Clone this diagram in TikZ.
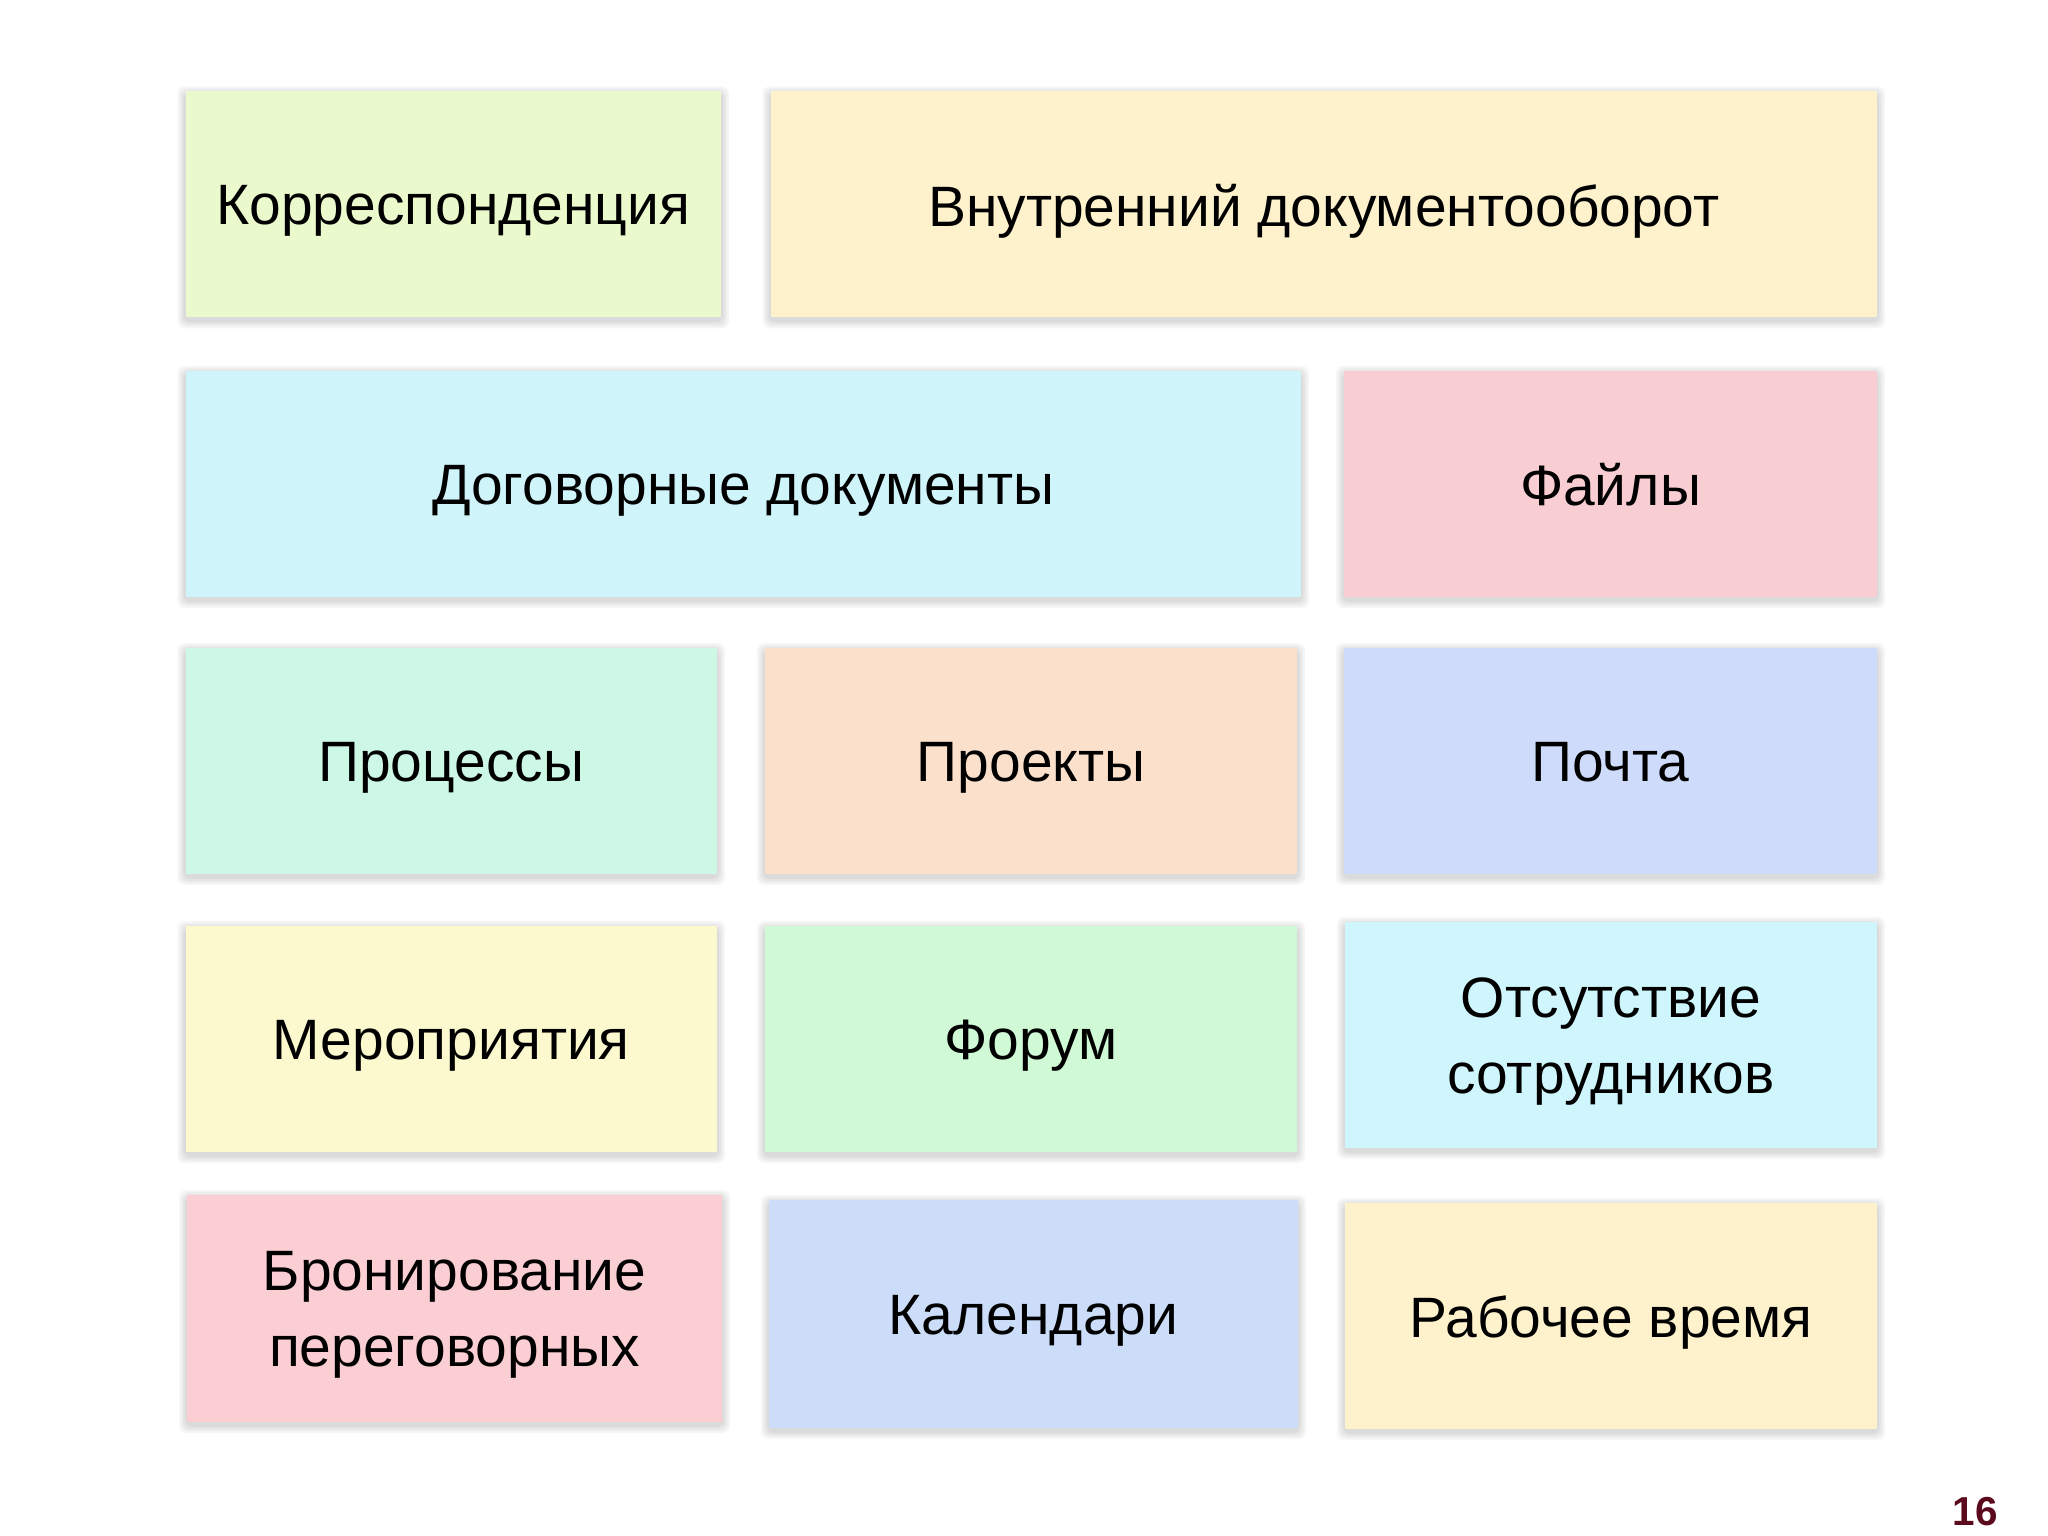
\documentclass[tikz,border=0pt]{standalone}
\usepackage{fontspec}
\setmainfont{Liberation Sans}
\usetikzlibrary{fit,calc}
\definecolor{cKorr}{RGB}{235,250,205}
\definecolor{cVnutr}{RGB}{253,242,204}
\definecolor{cDog}{RGB}{207,245,251}
\definecolor{cFail}{RGB}{249,206,211}
\definecolor{cProc}{RGB}{205,248,230}
\definecolor{cProj}{RGB}{251,225,204}
\definecolor{cPocht}{RGB}{207,219,250}
\definecolor{cMer}{RGB}{251,249,205}
\definecolor{cForum}{RGB}{207,250,213}
\definecolor{cOts}{RGB}{207,246,252}
\definecolor{cBron}{RGB}{250,206,210}
\definecolor{cKal}{RGB}{204,221,249}
\definecolor{cRab}{RGB}{253,242,204}
\definecolor{pagenum}{RGB}{92,10,30}
\tikzset{
  boxshape/.style={rectangle, inner sep=0pt, draw=none},
  boxtext/.style={align=center, inner sep=0pt, yshift=-0.065cm, font=\fontsize{16.2}{21.6}\selectfont},
  shadowlayer/.style={fill=black, opacity=0.035, rounded corners=2pt},
}
% \cell{name}{colour}{x1}{y1}{x2}{y2}{text}
\newcommand\cell[7]{%
  \foreach \s in {0.02,0.04,0.06,0.08}{%
    \fill[shadowlayer] ($(#3,#4)+(-\s,-\s+0.03)$) rectangle ($(#5,#6)+(\s,\s+0.03)$);}
  \node[boxshape, fill=#2, fit={(#3,#4)(#5,#6)}] (#1) {};
  \node[boxtext] (#1-t) at (#1.center) {#7\vphantom{Кр}};
}
\begin{document}
\begin{tikzpicture}[x=1cm,y=-1cm]
\useasboundingbox[fill=white] (0,0) rectangle (20.48,15.36);
% row 1
\cell{korr}{cKorr}{1.855}{0.914}{7.21}{3.174}{Корреспонденция}
\cell{vnutr}{cVnutr}{7.706}{0.914}{18.77}{3.174}{Внутренний документооборот}
% row 2
\cell{dog}{cDog}{1.855}{3.71}{13.01}{5.97}{Договорные документы}
\cell{fail}{cFail}{13.44}{3.71}{18.77}{5.97}{Файлы}
% row 3
\cell{proc}{cProc}{1.855}{6.48}{7.17}{8.74}{Процессы}
\cell{proj}{cProj}{7.65}{6.48}{12.97}{8.74}{Проекты}
\cell{pocht}{cPocht}{13.44}{6.48}{18.77}{8.74}{Почта}
% row 4
\cell{mer}{cMer}{1.855}{9.26}{7.17}{11.52}{Мероприятия}
\cell{forum}{cForum}{7.65}{9.26}{12.97}{11.52}{Форум}
\cell{ots}{cOts}{13.45}{9.22}{18.77}{11.48}{Отсутствие\\сотрудников}
% row 5
\cell{bron}{cBron}{1.87}{11.95}{7.22}{14.22}{Бронирование\\переговорных}
\cell{kal}{cKal}{7.69}{12.00}{12.98}{14.28}{Календари}
\cell{rab}{cRab}{13.45}{12.03}{18.77}{14.29}{Рабочее время}
% page number
\node[text=pagenum, font=\fontsize{11.5}{12}\selectfont\bfseries] (pnum) at (19.75,15.12) {16};
\end{tikzpicture}
\end{document}
